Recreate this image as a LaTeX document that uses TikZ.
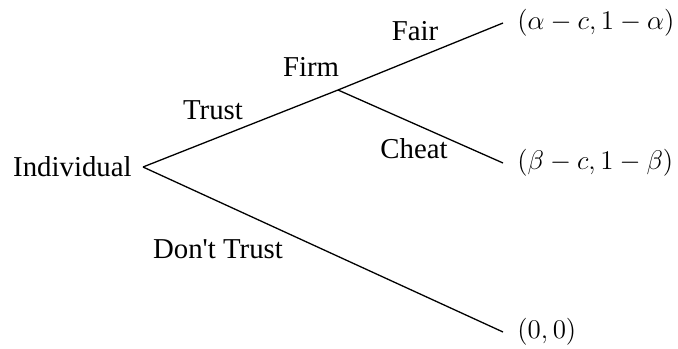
\documentclass[tikz,border=0pt]{standalone}
\usepackage{fix-cm}
\usepackage{fontspec}
\setmainfont{Liberation Serif}
\usetikzlibrary{positioning}

\tikzset{
    lbl/.style={font=\fontsize{14.4}{17}\selectfont, inner sep=0pt},
    payoff/.style={font=\fontsize{13.5}{16}\selectfont, anchor=west, inner xsep=7pt, inner ysep=0pt},
    branch/.style={line width=0.65pt}
}

\begin{document}
\begin{tikzpicture}[x=0.5pt, y=-0.5pt]
    \useasboundingbox (0, 0) rectangle (678, 348);

    % Decision points
    \node[lbl, anchor=east, inner xsep=5.5pt] (ind) at (143, 167) {Individual};
    \coordinate (firm) at (338, 90);
    \node[lbl] (firmlbl) at (311, 67) {Firm};

    % Outcomes
    \node[payoff] (fair) at (503, 23) {$(\alpha - c, 1 - \alpha)$};
    \node[payoff] (cheat) at (503, 163) {$(\beta - c, 1 - \beta)$};
    \node[payoff] (none) at (503, 332) {$(0, 0)$};

    % Branches
    \draw[branch] (ind.east) -- (firm);
    \draw[branch] (ind.east) -- (none.west);
    \draw[branch] (firm) -- (fair.west);
    \draw[branch] (firm) -- (cheat.west);

    % Moves
    \node[lbl] (trust) at (213, 110) {Trust};
    \node[lbl] (dont) at (218, 249) {Don\textquotesingle t Trust};
    \node[lbl] (fairlbl) at (415, 31) {Fair};
    \node[lbl] (cheatlbl) at (414, 149) {Cheat};
\end{tikzpicture}
\end{document}
